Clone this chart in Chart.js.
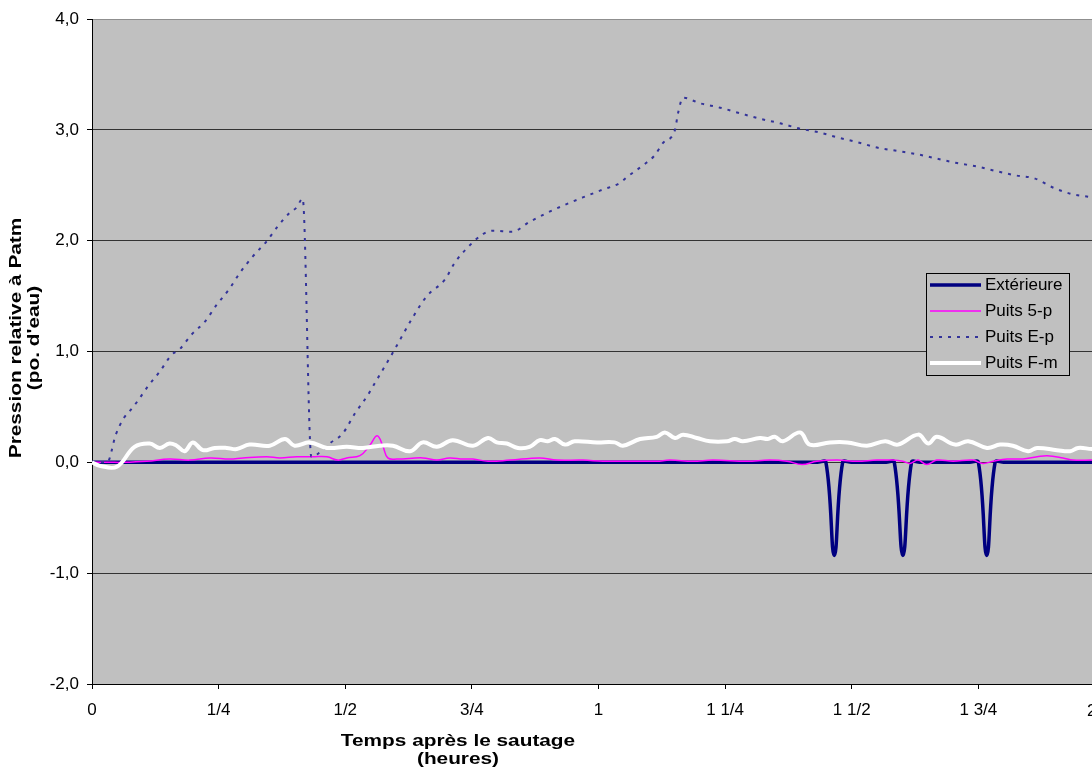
<!DOCTYPE html>
<html>
<head>
<meta charset="utf-8">
<script src="https://cdn.jsdelivr.net/npm/chart.js@4/dist/chart.umd.min.js"></script>
<style>
  html, body { margin: 0; padding: 0; background: #fff; overflow: hidden; }
  #wrap { width: 1092px; height: 767px; overflow: hidden; }
</style>
</head>
<body>
<div id="wrap"><canvas id="chart" width="1130" height="767"></canvas></div>
<script>
// --- data (x in hours after blast, y in inches of water) ---
const xTickLabels = ['0', '1/4', '1/2', '3/4', '1', '1 1/4', '1 1/2', '1 3/4', '2'];
const seriesNames = ['Extérieure', 'Puits 5-p', 'Puits E-p', 'Puits F-m'];

const extHours  = [0, 1.432, 1.449, 1.4655, 1.482, 1.499, 1.568, 1.584, 1.601, 1.618, 1.634, 1.733, 1.750, 1.7665, 1.783, 1.800, 2.0];
const extValues = [0, 0,     0,     -0.84,  0,     0,     0,     0,     -0.84, 0,     0,     0,     0,     -0.84,  0,     0,     0];

const p5Hours  = [0, 0.035, 0.061, 0.108, 0.153, 0.193, 0.233, 0.272, 0.298, 0.345, 0.371, 0.404, 0.436, 0.464, 0.485, 0.503, 0.529, 0.548, 0.563, 0.574, 0.584, 0.602,
                  0.653, 0.681, 0.706, 0.732, 0.752, 0.782, 0.825, 0.884, 0.918, 0.969, 1.009, 1.048, 1.115, 1.141, 1.186, 1.226, 1.293, 1.338, 1.372, 1.402,
                  1.431, 1.471, 1.510, 1.550, 1.581, 1.601, 1.615, 1.631, 1.648, 1.668, 1.700, 1.739, 1.759, 1.779, 1.807, 1.838, 1.866, 1.886, 1.917, 1.937, 1.975, 2.0];
const p5Values = [0, 0, 0, 0.01, 0.03, 0.02, 0.04, 0.03, 0.04, 0.05, 0.04, 0.05, 0.05, 0.05, 0.02, 0.04, 0.06, 0.15, 0.24, 0.15, 0.04, 0.03,
                  0.04, 0.02, 0.04, 0.03, 0.03, 0.01, 0.02, 0.04, 0.02, 0.02, 0.01, 0.01, 0.01, 0.02, 0.01, 0.02, 0.01, 0.02, 0.01, -0.02,
                  0.01, 0.02, 0.01, 0.02, 0.02, 0.01, -0.01, 0.02, -0.02, 0.02, 0.01, 0.02, -0.01, 0.01, 0.03, 0.03, 0.05, 0.06, 0.04, 0.02, 0.02, 0.02];

const epHours  = [0, 0.030, 0.047, 0.063, 0.074, 0.088, 0.111, 0.134, 0.157, 0.173, 0.196, 0.223, 0.246, 0.272, 0.292, 0.318, 0.344, 0.367, 0.390, 0.404, 0.416,
                  0.433, 0.447, 0.469, 0.495, 0.519, 0.545, 0.554, 0.594, 0.631, 0.661, 0.697, 0.716, 0.742, 0.772, 0.791, 0.829, 0.864, 0.898, 0.937, 0.969,
                  1.008, 1.042, 1.058, 1.088, 1.111, 1.127, 1.151, 1.157, 1.167, 1.200, 1.240, 1.279, 1.319, 1.358, 1.398, 1.433, 1.473, 1.510, 1.550,
                  1.589, 1.629, 1.668, 1.708, 1.747, 1.783, 1.822, 1.862, 1.897, 1.935, 1.975, 2.0];
const epValues = [0, 0, 0.25, 0.40, 0.46, 0.54, 0.69, 0.82, 0.97, 1.02, 1.15, 1.27, 1.42, 1.57, 1.71, 1.86, 1.99, 2.13, 2.25, 2.30, 2.38,
                  0.05, 0.08, 0.17, 0.26, 0.44, 0.61, 0.68, 0.99, 1.29, 1.50, 1.65, 1.80, 1.94, 2.06, 2.09, 2.08, 2.17, 2.25, 2.33, 2.39,
                  2.46, 2.52, 2.58, 2.68, 2.77, 2.88, 3.00, 3.15, 3.29, 3.24, 3.20, 3.15, 3.10, 3.06, 3.01, 2.98, 2.93, 2.89, 2.84,
                  2.81, 2.78, 2.74, 2.70, 2.67, 2.63, 2.59, 2.56, 2.48, 2.42, 2.39, 2.36];

const fmHours  = [0, 0.015, 0.049, 0.084, 0.114, 0.134, 0.153, 0.167, 0.183, 0.199, 0.219, 0.242, 0.266, 0.286, 0.311, 0.351, 0.381, 0.400, 0.430, 0.464,
                  0.503, 0.535, 0.568, 0.594, 0.628, 0.653, 0.681, 0.712, 0.752, 0.782, 0.799, 0.819, 0.841, 0.864, 0.884, 0.900, 0.914, 0.934, 0.953, 0.997,
                  1.032, 1.048, 1.082, 1.115, 1.131, 1.151, 1.167, 1.194, 1.220, 1.254, 1.269, 1.285, 1.319, 1.334, 1.348, 1.364, 1.398, 1.417, 1.457, 1.491,
                  1.530, 1.566, 1.591, 1.631, 1.651, 1.668, 1.704, 1.730, 1.767, 1.793, 1.818, 1.848, 1.866, 1.905, 1.931, 1.947, 1.974, 2.0];
const fmValues = [0, -0.03, -0.04, 0.14, 0.17, 0.13, 0.17, 0.15, 0.10, 0.18, 0.11, 0.13, 0.13, 0.12, 0.16, 0.15, 0.21, 0.15, 0.18, 0.13,
                  0.14, 0.13, 0.15, 0.15, 0.10, 0.18, 0.14, 0.20, 0.15, 0.22, 0.18, 0.17, 0.13, 0.14, 0.20, 0.19, 0.21, 0.16, 0.19, 0.18,
                  0.18, 0.15, 0.21, 0.23, 0.27, 0.22, 0.25, 0.22, 0.19, 0.19, 0.21, 0.19, 0.22, 0.21, 0.23, 0.19, 0.27, 0.16, 0.18, 0.18,
                  0.15, 0.19, 0.16, 0.25, 0.17, 0.23, 0.16, 0.19, 0.13, 0.16, 0.15, 0.10, 0.13, 0.11, 0.10, 0.13, 0.12, 0.12];

const FONT = 'Arial, "Liberation Sans", sans-serif';
const lastTick = xTickLabels.length - 1;
const toPoints = (xs, ys) => xs.map((x, i) => ({ x: x, y: ys[i] }));

// grey plot area like the spreadsheet original
const plotBackground = {
    id: 'plotBackground',
    beforeDraw(chart) {
        const a = chart.chartArea, ctx = chart.ctx;
        ctx.save();
        ctx.fillStyle = '#C0C0C0';
        ctx.fillRect(a.left, a.top, a.right - a.left, a.bottom - a.top);
        ctx.restore();
    }
};

// the original's titles are a bit wide for their height, so stretch them along the text
function wideText(ctx, text, x, y, stretch) {
    ctx.save();
    ctx.translate(x, y);
    ctx.scale(stretch, 1);
    ctx.fillText(text, 0, 0);
    ctx.restore();
}

// axis titles + the last x label, which the original pulls back inside the frame
const axisTitles = {
    id: 'axisTitles',
    afterDraw(chart) {
        const ctx = chart.ctx;
        ctx.save();
        ctx.fillStyle = '#000';
        ctx.font = '17px ' + FONT;
        ctx.textAlign = 'left';
        ctx.textBaseline = 'middle';
        ctx.fillText(xTickLabels[lastTick], 1087, 711);
        ctx.font = 'bold 16px ' + FONT;
        ctx.textAlign = 'center';
        wideText(ctx, 'Temps après le sautage', 458, 742, 1.3);
        wideText(ctx, '(heures)', 458, 760, 1.3);
        ctx.translate(0, 338);
        ctx.rotate(-Math.PI / 2);
        wideText(ctx, 'Pression relative à Patm', 0, 17, 1.3);
        wideText(ctx, "(po. d'eau)", 0, 35, 1.3);
        ctx.restore();
    }
};

// boxed legend sitting inside the plot area
const boxLegend = {
    id: 'boxLegend',
    afterDraw(chart) {
        const ctx = chart.ctx;
        const x = 926, y = 273, w = 143, h = 102;
        ctx.save();
        ctx.fillStyle = '#C0C0C0';
        ctx.fillRect(x, y, w, h);
        ctx.strokeStyle = '#000';
        ctx.lineWidth = 1;
        ctx.strokeRect(x + 0.5, y + 0.5, w, h);
        ctx.font = '17px ' + FONT;
        ctx.textBaseline = 'middle';
        chart.data.datasets.forEach((ds, i) => {
            const cy = y + 12 + i * 26;
            ctx.beginPath();
            ctx.setLineDash(ds.borderDash || []);
            ctx.strokeStyle = ds.borderColor;
            ctx.lineWidth = ds.borderWidth;
            ctx.moveTo(x + 4, cy);
            ctx.lineTo(x + 55, cy);
            ctx.stroke();
            ctx.setLineDash([]);
            ctx.fillStyle = '#000';
            ctx.fillText(ds.label, x + 59, cy);
        });
        ctx.restore();
    }
};

new Chart(document.getElementById('chart'), {
    type: 'line',
    data: {
        datasets: [
            { label: seriesNames[0], data: toPoints(extHours, extValues), borderColor: '#000080', borderWidth: 3.5, tension: 0.4, order: 4 },
            { label: seriesNames[1], data: toPoints(p5Hours, p5Values), borderColor: '#FF00FF', borderWidth: 1.5, tension: 0.4, order: 3 },
            { label: seriesNames[2], data: toPoints(epHours, epValues), borderColor: '#333399', borderWidth: 2, borderDash: [3, 6], cubicInterpolationMode: 'monotone', order: 2 },
            { label: seriesNames[3], data: toPoints(fmHours, fmValues), borderColor: '#FFFFFF', borderWidth: 4, tension: 0.4, order: 1 }
        ]
    },
    options: {
        responsive: false,
        animation: false,
        devicePixelRatio: 1,
        elements: { point: { radius: 0 } },
        layout: { padding: { top: 19, right: 25, bottom: 0, left: 0 } },
        plugins: { legend: { display: false }, tooltip: { enabled: false } },
        scales: {
            x: {
                type: 'linear', min: 0, max: 2,
                afterFit: s => { s.height = 83; },
                grid: { drawOnChartArea: false, tickLength: 5, tickColor: '#000' },
                border: { color: '#000', width: 1 },
                ticks: {
                    stepSize: 0.25, autoSkip: false, maxRotation: 0, padding: 11,
                    color: '#000', font: { family: FONT, size: 17 },
                    callback: (v, i) => (i === lastTick ? '' : xTickLabels[i])
                }
            },
            y: {
                min: -2, max: 4,
                afterFit: s => { s.width = 92; },
                grid: {
                    color: c => (c.tick && c.tick.value === 4) ? '#8f8f8f' : '#333',
                    lineWidth: 1, tickLength: 5, tickColor: '#000'
                },
                border: { color: '#000', width: 1 },
                ticks: {
                    stepSize: 1, padding: 8, color: '#000', font: { family: FONT, size: 17 },
                    callback: v => v.toFixed(1).replace('.', ',')
                }
            }
        }
    },
    plugins: [plotBackground, axisTitles, boxLegend]
});
</script>
</body>
</html>
